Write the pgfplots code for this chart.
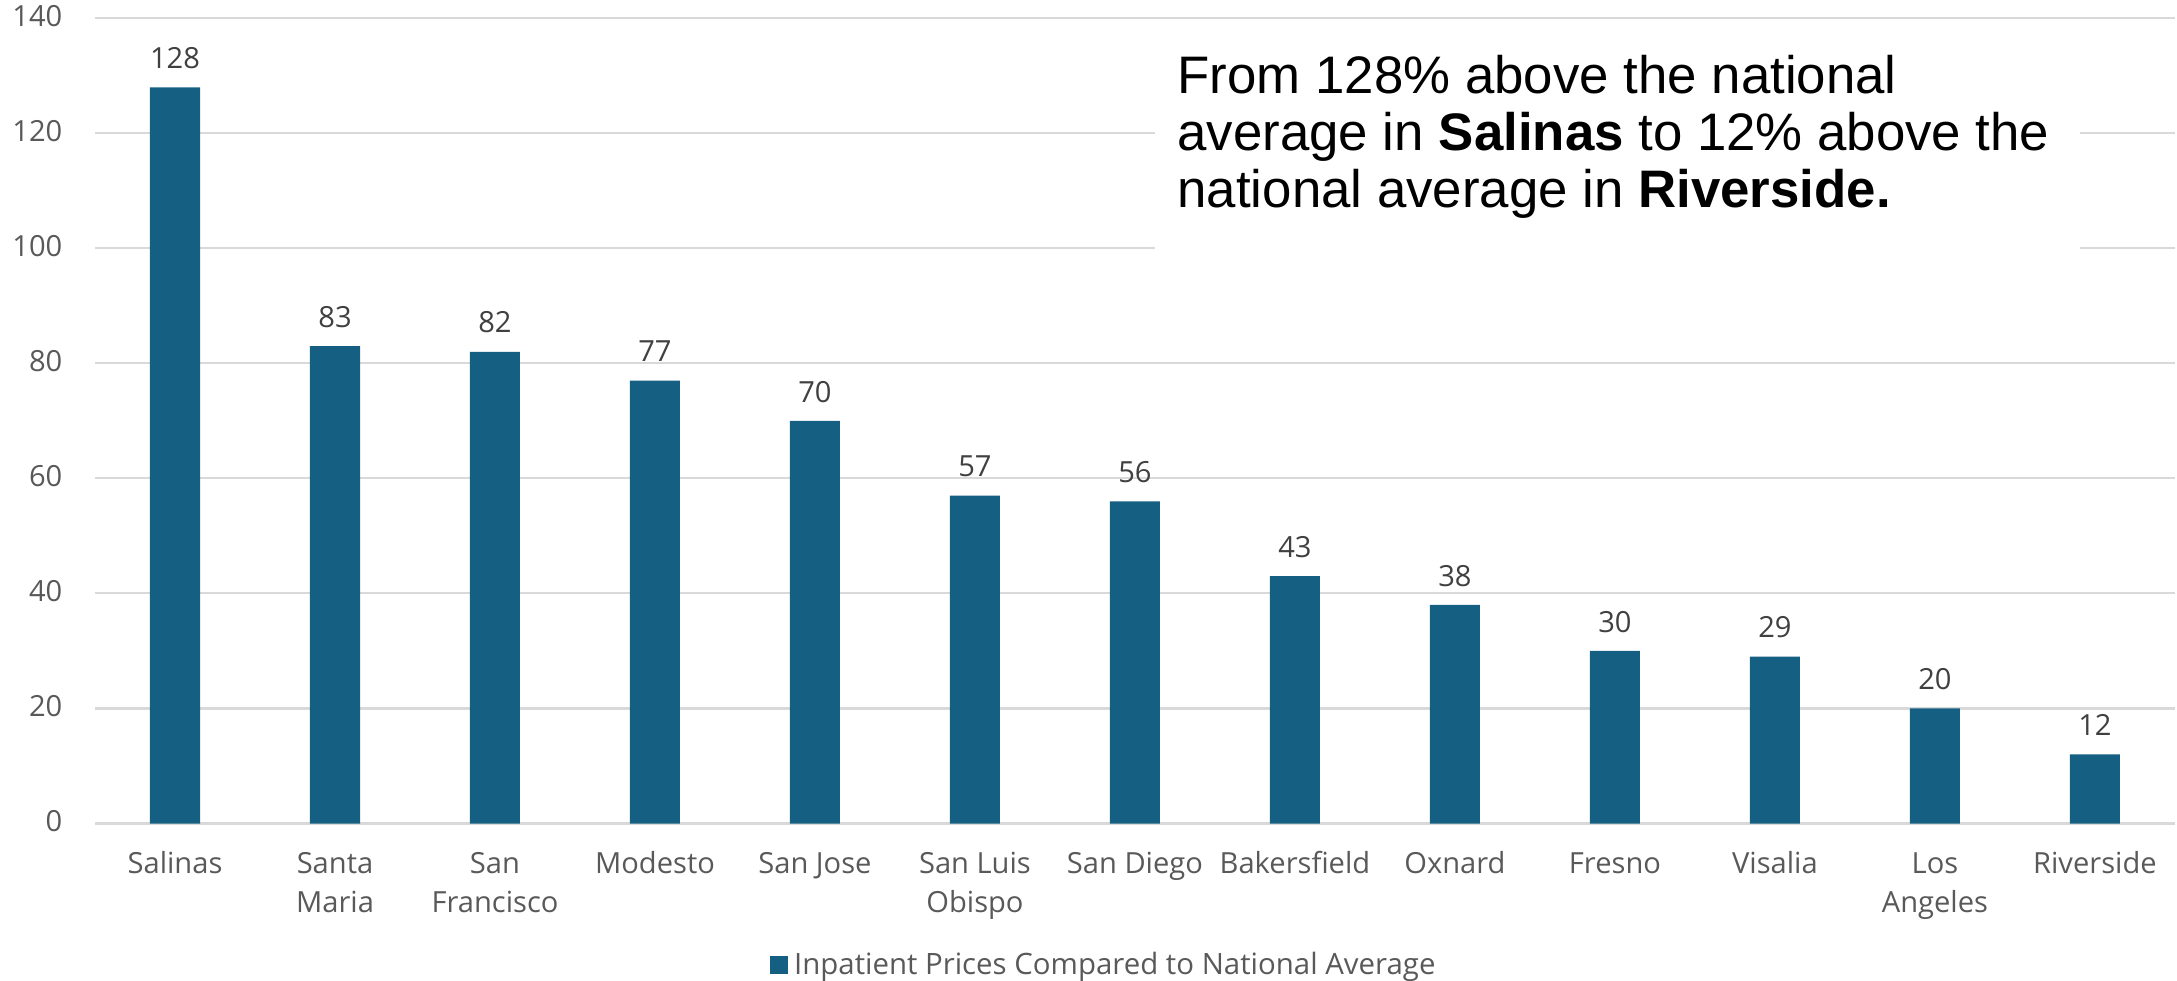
\documentclass[border=0pt]{standalone}
\usepackage{pgfplots}
\pgfplotsset{compat=1.18}
\usepackage{fontspec}
\setmainfont{Open Sans}
\newfontfamily\arialfont{Liberation Sans}
\definecolor{barcol}{HTML}{156082}
\definecolor{tickcol}{HTML}{595959}
\definecolor{labcol}{HTML}{404040}
\definecolor{gridcol}{HTML}{D9D9D9}
\begin{document}
\begin{tikzpicture}
\useasboundingbox (-31.67pt,-52.5pt) rectangle (694pt,274.5pt);
\begin{axis}[
  at={(0,0)}, anchor=south west,
  scale only axis, width=693.3pt, height=268.4pt,
  ybar, bar width=16.67pt,
  xmin=-0.5, xmax=12.5, ymin=0, ymax=140,
  ytick={0,20,...,140},
  xtick={0,...,12},
  xticklabels={Salinas, Santa\\Maria, San\\Francisco, Modesto, San Jose, San Luis\\Obispo, San Diego, Bakersfield, Oxnard, Fresno, Visalia, Los\\Angeles, Riverside},
  /pgf/number format/assume math mode=true,
  ymajorgrids, grid style={gridcol, line width=0.7pt},
  axis line style={draw=none},
  major tick length=0pt,
  typeset ticklabels with strut,
  tick label style={font=\fontsize{9.7}{13}\selectfont, text=tickcol},
  xticklabel style={align=center, anchor=north, inner sep=0pt, yshift=-7.4pt},
  yticklabel style={anchor=east, inner sep=0pt, xshift=-10.7pt},
  nodes near coords,
  nodes near coords style={font=\fontsize{9.7}{11}\selectfont, text=labcol, anchor=base, inner sep=0pt, yshift=6.3pt},
  legend style={at={(0.486,-0.176)}, anchor=center, draw=none, fill=none,
    font=\fontsize{9.8}{11}\selectfont, text=tickcol, inner sep=0pt},
]
\addplot[fill=barcol, draw=none,
  legend image code/.code={\fill[barcol] (0pt,-3pt) rectangle (6pt,3pt);}]
  coordinates {(0,128) (1,83) (2,82) (3,77) (4,70) (5,57) (6,56) (7,43) (8,38) (9,30) (10,29) (11,20) (12,12)};
\addlegendentry{Inpatient Prices Compared to National Average}
\fill[white] (rel axis cs:0.5096,0.6937) rectangle (rel axis cs:0.9544,0.9855);
\node[anchor=base west, inner sep=0pt, font=\arialfont\fontsize{17.6}{19.2}\selectfont] at (rel axis cs:0.5202,0.9072) {From 128\% above the national};
\node[anchor=base west, inner sep=0pt, font=\arialfont\fontsize{17.6}{19.2}\selectfont] at (rel axis cs:0.5202,0.8364) {average in \textbf{Salinas} to 12\% above the};
\node[anchor=base west, inner sep=0pt, font=\arialfont\fontsize{17.6}{19.2}\selectfont] at (rel axis cs:0.5202,0.7645) {national average in \textbf{Riverside.}};
\end{axis}
\end{tikzpicture}
\end{document}
